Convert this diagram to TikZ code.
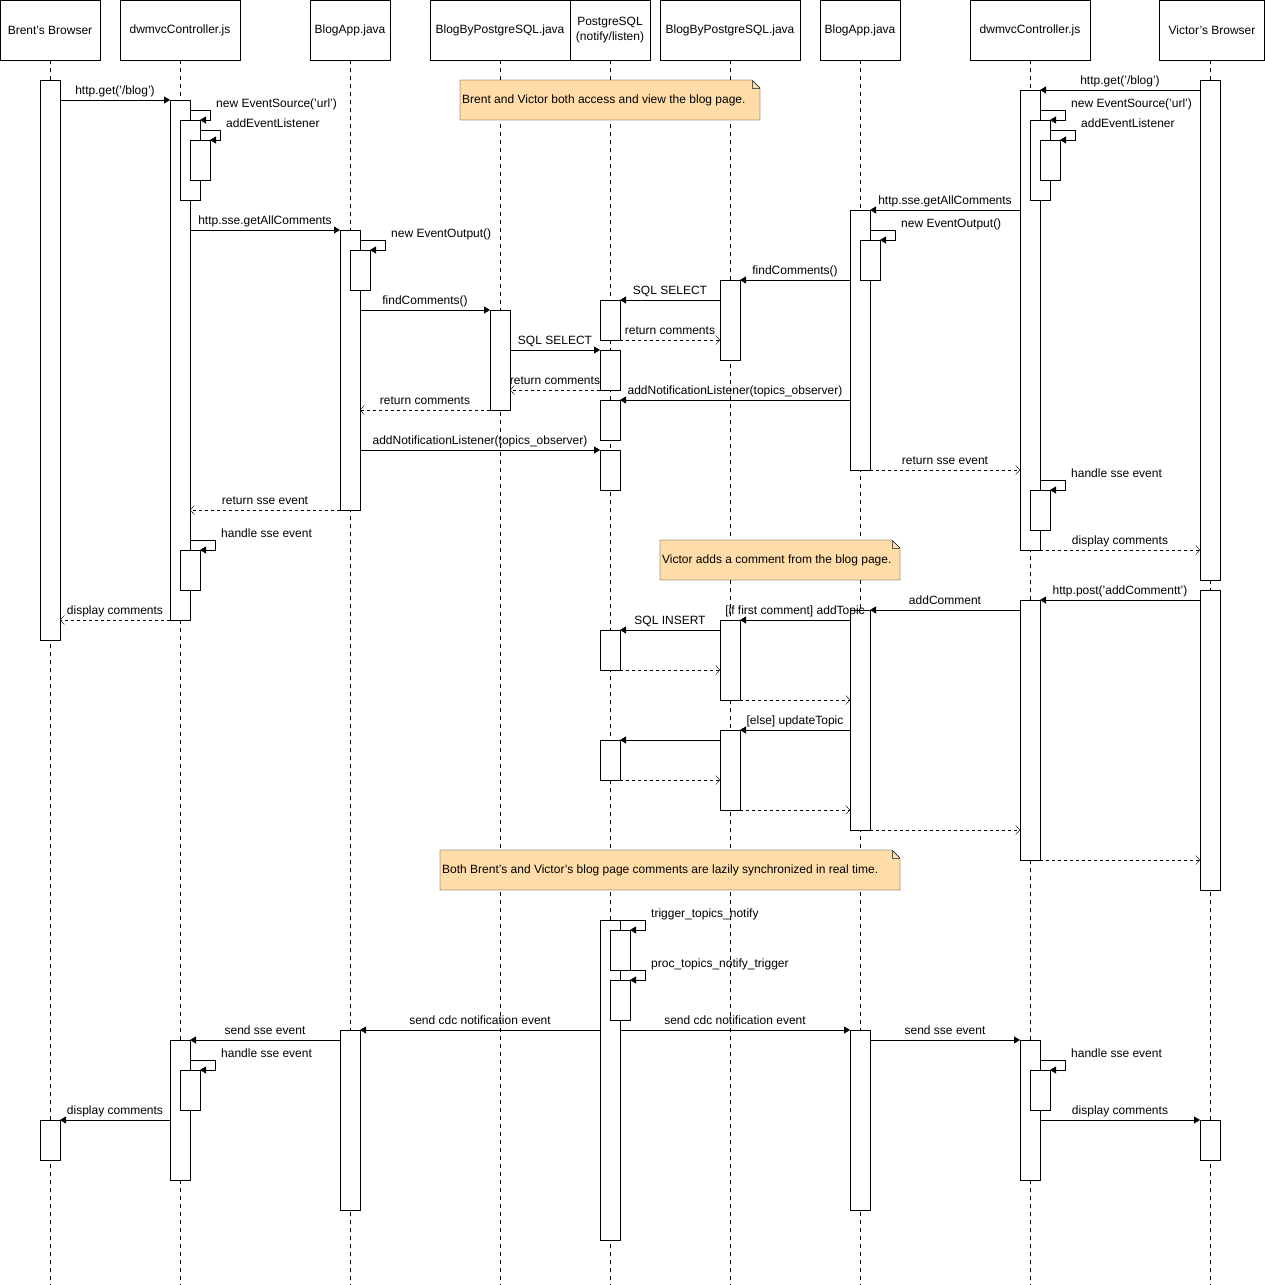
\documentclass[tikz,border=0pt]{standalone}
\usepackage{fontspec}
\setmainfont{Liberation Sans}
\usetikzlibrary{arrows.meta}
\definecolor{notefill}{RGB}{255,220,168}
\newcommand\msgl[4]{\draw[msg] (#1,#3) -- (#2,#3); \node[lbl] at ({(#1+#2)/2},{#3-6}) {#4};}
\newcommand\retl[4]{\draw[ret] (#1,#3) -- (#2,#3); \node[lbl] at ({(#1+#2)/2},{#3-6}) {#4};}
\newcommand\selfc[5]{\draw[msg] (#1,#2) -| (#3,{#2+10}) -- (#4,{#2+10}); \node[lbl,anchor=base west] at ({#3+6},{#2-3}) {#5};}
\newcommand\actb[3]{\draw[act] ({#1-10},#2) rectangle ({#1+10},#3);}
\newcommand\hdr[3]{\node[hdrbox,minimum width=#2] at (#1,30) {#3};}
\newcommand\notebox[5]{\draw[note] (#1,#3) -- ({#2-8},#3) -- (#2,{#3+8}) -- (#2,#4) -- (#1,#4) -- cycle; \draw[gray!70!black] ({#2-8},#3) -- ({#2-8},{#3+8}) -- (#2,{#3+8}); \node[lbl,anchor=west] at ({#1+2},{(#3+#4)/2}) {#5};}
\begin{document}
\begin{tikzpicture}[x=1pt,y=-1pt,
  font=\fontsize{12}{14}\selectfont,
  lbl/.style={inner sep=0pt,anchor=base},
  hdrbox/.style={draw,fill=white,minimum height=60pt,inner sep=1pt,align=center,font=\fontsize{12}{15}\selectfont},
  act/.style={draw,fill=white},
  msg/.style={-{Triangle[length=6pt,width=7pt]}},
  ret/.style={dashed,-{Straight Barb[length=4pt,width=9pt]}},
  life/.style={dashed,dash pattern=on 4pt off 4pt},
  note/.style={draw,fill=notefill}]
\useasboundingbox (0,0) rectangle (1265,1285);
% lifelines
\foreach \x in {50,180,350,500,610,730,860,1030,1210} \draw[life] (\x,60) -- (\x,1285);
% headers
\hdr{50}{100}{Brent's Browser}
\hdr{180}{120}{dwmvcController.js}
\hdr{350}{80}{BlogApp.java}
\hdr{500}{140}{BlogByPostgreSQL.java}
\hdr{610}{80}{PostgreSQL\\(notify/listen)}
\hdr{730}{140}{BlogByPostgreSQL.java}
\hdr{860}{80}{BlogApp.java}
\hdr{1030}{120}{dwmvcController.js}
\hdr{1212}{105}{Victor's Browser}
% activations
\actb{50}{80}{640} \actb{50}{1120}{1160}
\actb{180}{100}{620} \actb{190}{120}{200} \actb{200}{140}{180}
\actb{190}{550}{590}
\actb{180}{1040}{1180} \actb{190}{1070}{1110}
\actb{350}{230}{510} \actb{360}{250}{290}
\actb{350}{1030}{1210}
\actb{500}{310}{410}
\actb{610}{300}{340} \actb{610}{350}{390} \actb{610}{400}{440} \actb{610}{450}{490}
\actb{610}{630}{670} \actb{610}{740}{780}
\actb{610}{920}{1240} \actb{620}{930}{970} \actb{620}{980}{1020}
\actb{730}{280}{360} \actb{730}{620}{700} \actb{730}{730}{810}
\actb{860}{210}{470} \actb{870}{240}{280}
\actb{860}{610}{830} \actb{860}{1030}{1210}
\actb{1030}{90}{550} \actb{1040}{120}{200} \actb{1050}{140}{180}
\actb{1040}{490}{530}
\actb{1030}{600}{860}
\actb{1030}{1040}{1180} \actb{1040}{1070}{1110}
\actb{1210}{80}{580} \actb{1210}{590}{890} \actb{1210}{1120}{1160}
% notes
\notebox{460}{760}{80}{120}{Brent and Victor both access and view the blog page.}
\notebox{660}{900}{540}{580}{Victor adds a comment from the blog page.}
\notebox{440}{900}{850}{890}{Both Brent's and Victor's blog page comments are lazily synchronized in real time.}
% left side messages
\msgl{60}{170}{100}{http.get('/blog')}
\selfc{190}{110}{210}{200}{new EventSource('url')}
\selfc{200}{130}{220}{210}{addEventListener}
\msgl{190}{340}{230}{http.sse.getAllComments}
\selfc{360}{240}{385}{370}{new EventOutput()}
\msgl{360}{490}{310}{findComments()}
\msgl{510}{600}{350}{SQL SELECT}
\retl{600}{510}{390}{return comments}
\retl{490}{360}{410}{return comments}
\msgl{360}{600}{450}{addNotificationListener(topics\_observer)}
\retl{340}{190}{510}{return sse event}
\selfc{190}{540}{215}{200}{handle sse event}
\retl{170}{60}{620}{display comments}
% right side
\msgl{1200}{1040}{90}{http.get('/blog')}
\selfc{1040}{110}{1065}{1050}{new EventSource('url')}
\selfc{1050}{130}{1075}{1060}{addEventListener}
\msgl{1020}{870}{210}{http.sse.getAllComments}
\selfc{870}{230}{895}{880}{new EventOutput()}
\msgl{850}{740}{280}{findComments()}
\msgl{720}{620}{300}{SQL SELECT}
\retl{620}{720}{340}{return comments}
\msgl{850}{620}{400}{addNotificationListener(topics\_observer)}
\retl{870}{1020}{470}{return sse event}
\selfc{1040}{480}{1065}{1050}{handle sse event}
\retl{1040}{1200}{550}{display comments}
\msgl{1200}{1040}{600}{http.post('addCommentt')}
\msgl{1020}{870}{610}{addComment}
\msgl{850}{740}{620}{[if first comment] addTopic}
\msgl{720}{620}{630}{SQL INSERT}
\retl{620}{720}{670}{}
\retl{740}{850}{700}{}
\msgl{850}{740}{730}{[else] updateTopic}
\msgl{720}{620}{740}{}
\retl{620}{720}{780}{}
\retl{740}{850}{810}{}
\retl{870}{1020}{830}{}
\retl{1040}{1200}{860}{}
% bottom
\selfc{620}{920}{645}{630}{trigger\_topics\_notify}
\selfc{630}{970}{645}{630}{proc\_topics\_notify\_trigger}
\msgl{600}{360}{1030}{send cdc notification event}
\msgl{620}{850}{1030}{send cdc notification event}
\msgl{340}{190}{1040}{send sse event}
\msgl{870}{1020}{1040}{send sse event}
\selfc{190}{1060}{215}{200}{handle sse event}
\selfc{1040}{1060}{1065}{1050}{handle sse event}
\msgl{170}{60}{1120}{display comments}
\msgl{1040}{1200}{1120}{display comments}
\end{tikzpicture}
\end{document}
